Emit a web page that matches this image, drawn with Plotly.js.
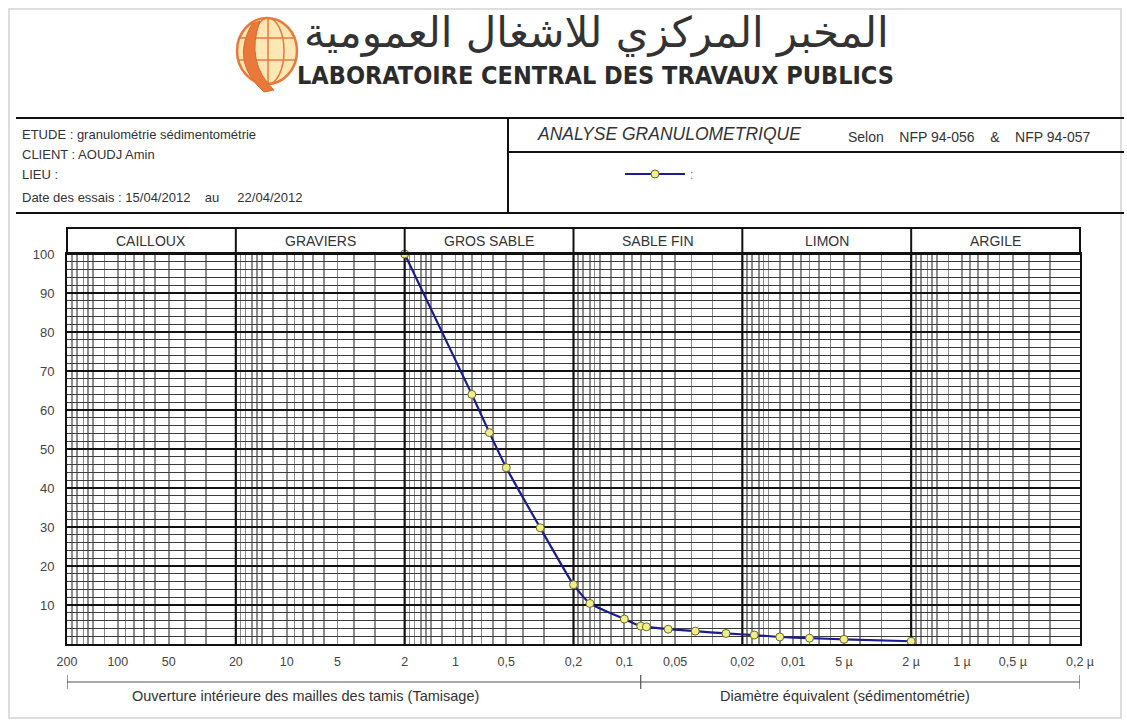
<!DOCTYPE html>
<html>
<head>
<meta charset="utf-8">
<script src="https://cdn.plot.ly/plotly-3.0.1.min.js"></script>
<style>html,body{margin:0;padding:0;background:#fff;} #chart{width:1127px;height:720px;}</style>
</head>
<body>
<div id="chart"></div>
<script>
// ---------- data ----------
const sizesMm = [2, 0.8, 0.63, 0.5, 0.315, 0.2, 0.16, 0.1, 0.08, 0.074, 0.055, 0.038, 0.025, 0.017, 0.012, 0.008, 0.005, 0.002];
const passingPct = [100, 64, 54.2, 45.2, 29.8, 15.2, 10.4, 6.4, 4.6, 4.4, 3.8, 3.3, 2.7, 2.3, 1.8, 1.5, 1.2, 0.7];
const classNames = ['CAILLOUX', 'GRAVIERS', 'GROS SABLE', 'SABLE FIN', 'LIMON', 'ARGILE'];
const classBounds = [200, 20, 2, 0.2, 0.02, 0.002, 0.0002];
const tickValsMm = [200, 100, 50, 20, 10, 5, 2, 1, 0.5, 0.2, 0.1, 0.05, 0.02, 0.01, 0.005, 0.002, 0.001, 0.0005, 0.0002];
const tickLabels = ['200', '100', '50', '20', '10', '5', '2', '1', '0,5', '0,2', '0,1', '0,05', '0,02', '0,01', '5 µ', '2 µ', '1 µ', '0,5 µ', '0,2 µ'];
const yTickVals = [10, 20, 30, 40, 50, 60, 70, 80, 90, 100];
const methodNames = ['Ouverture intérieure des mailles des tamis (Tamisage)', 'Diamètre équivalent (sédimentométrie)'];
const methodBounds = [200, 0.08, 0.0002];
const headerAr = 'المخبر المركزي للاشغال العمومية';
const headerFr = 'LABORATOIRE CENTRAL DES TRAVAUX PUBLICS';
const infoLines = ['ETUDE : granulométrie sédimentométrie', 'CLIENT : AOUDJ Amin', 'LIEU :', 'Date des essais : 15/04/2012\u00a0\u00a0\u00a0\u00a0au\u00a0\u00a0\u00a0\u00a0 22/04/2012'];
const analysisTitle = 'ANALYSE GRANULOMETRIQUE';
const normText = 'Selon\u00a0\u00a0\u00a0 NFP 94-056\u00a0\u00a0\u00a0 &\u00a0\u00a0\u00a0 NFP 94-057';
const seriesName = ':';

// ---------- helpers (pixel -> paper) ----------
const W = 1127, H = 720;
const P = x => x / W;
const Q = y => 1 - y / H;
const FONT = 'Liberation Sans, Arial, sans-serif';

// minor vertical grid (log paper pattern within each decade)
const gridMult = [1.875, 1.75, 1.6, 1.5, 1.4, 1.2, 1.0, 0.9, 0.8, 0.7, 0.6, 0.5, 0.4, 0.3];
const minorX = [];
for (let i = 0; i < classBounds.length - 1; i++) {
  const base = classBounds[i] / 2;
  gridMult.forEach(m => minorX.push(+(m * base).toPrecision(6)));
}

const PLOT_L = 67, PLOT_R = 1080, PLOT_T = 254, PLOT_B = 644, BAND_T = 228;

const trace = {
  x: sizesMm, y: passingPct, type: 'scatter', mode: 'lines+markers', name: seriesName,
  line: {color: '#1c1c8e', width: 2.2, shape: 'spline', smoothing: 0.5},
  marker: {symbol: 'circle', size: 8, color: '#f2ef86', line: {color: '#6a6a30', width: 1}},
  cliponaxis: false, showlegend: true, hoverinfo: 'x+y'
};

const shapes = [];
// outer document frame
shapes.push({type: 'rect', xref: 'paper', yref: 'paper', x0: P(9), x1: P(1121), y0: Q(718), y1: Q(9),
  line: {color: '#d4d4d4', width: 1.5}, fillcolor: 'rgba(0,0,0,0)', layer: 'below'});
// table lines
const tl = (x0, y0, x1, y1, w, c) => shapes.push({type: 'line', xref: 'paper', yref: 'paper',
  x0: P(x0), y0: Q(y0), x1: P(x1), y1: Q(y1), line: {color: c || '#111', width: w || 2}});
tl(16, 118, 1124, 118);
tl(16, 213, 1124, 213);
tl(508, 118, 508, 213);
tl(508, 152, 1124, 152);
// category band
shapes.push({type: 'rect', xref: 'paper', yref: 'paper', x0: P(PLOT_L), x1: P(PLOT_R), y0: Q(PLOT_T), y1: Q(BAND_T),
  line: {color: '#111', width: 2}, fillcolor: 'rgba(0,0,0,0)'});
classBounds.slice(1, -1).forEach(b => {
  shapes.push({type: 'line', xref: 'x', yref: 'paper', x0: b, x1: b, y0: Q(PLOT_T), y1: Q(BAND_T),
    line: {color: '#111', width: 2}});
  shapes.push({type: 'line', xref: 'x', yref: 'y', x0: b, x1: b, y0: 0, y1: 100, layer: 'between',
    line: {color: '#111', width: 2.2}});
});
// method brackets below axis
const BR_Y = 682;
shapes.push({type: 'line', xref: 'x', yref: 'paper', x0: methodBounds[0], x1: methodBounds[2], y0: Q(BR_Y), y1: Q(BR_Y),
  line: {color: '#555', width: 1.2}});
methodBounds.forEach(b => shapes.push({type: 'line', xref: 'x', yref: 'paper', x0: b, x1: b, y0: Q(675), y1: Q(689),
  line: {color: '#555', width: 1.2}}));

// logo
const ORG = '#e8793a';
shapes.push({type: 'circle', xref: 'paper', yref: 'paper', x0: P(237), x1: P(297), y0: Q(84), y1: Q(18),
  fillcolor: '#fde7b4', line: {color: ORG, width: 2.5}});
shapes.push({type: 'circle', xref: 'paper', yref: 'paper', x0: P(252), x1: P(284), y0: Q(84), y1: Q(18),
  fillcolor: 'rgba(0,0,0,0)', line: {color: ORG, width: 1.5}});
tl(240, 38, 294, 38, 1.5, ORG);
tl(238, 60, 296, 60, 1.5, ORG);
tl(268, 18, 268, 84, 1.5, ORG);
shapes.push({type: 'path', xref: 'paper', yref: 'paper',
  path: `M ${P(252)},${Q(24)} Q ${P(230)},${Q(62)} ${P(264)},${Q(92)} L ${P(274)},${Q(90)} Q ${P(245)},${Q(62)} ${P(260)},${Q(21)} Z`,
  fillcolor: ORG, line: {color: '#d9692d', width: 1}});

// annotations
const annotations = [];
const ann = (x, y, text, font, xanchor, extra) => annotations.push(Object.assign({
  xref: 'paper', yref: 'paper', x: P(x), y: Q(y), text: text, showarrow: false,
  xanchor: xanchor || 'center', yanchor: 'middle', font: font}, extra || {}));

ann(596, 33, headerAr, {family: 'DejaVu Sans, Noto Sans, sans-serif', size: 42, color: '#333'});
ann(595, 76, '<b>' + headerFr + '</b>', {family: 'Liberation Sans Narrow, DejaVu Sans Condensed, Arial Narrow, sans-serif', size: 25, color: '#2b2b2b'});

const infoY = [134, 154, 174, 197];
infoLines.forEach((t, i) => ann(20, infoY[i], t, {family: FONT, size: 13, color: '#333'}, 'left'));
ann(535, 134, analysisTitle, {family: FONT, size: 17.5, color: '#333', style: 'italic'}, 'left');
ann(846, 137, normText, {family: FONT, size: 14, color: '#333'}, 'left');

classNames.forEach((n, i) => {
  const c = Math.sqrt(classBounds[i] * classBounds[i + 1]);
  annotations.push({xref: 'x', yref: 'paper', x: Math.log10(c), y: Q(241), text: n, showarrow: false,
    xanchor: 'center', yanchor: 'middle', font: {family: FONT, size: 14, color: '#333'}});
});
ann(305, 696, methodNames[0], {family: FONT, size: 14.5, color: '#333'});
ann(845, 696, methodNames[1], {family: FONT, size: 14.5, color: '#333'});

const layout = {
  width: W, height: H,
  margin: {l: 0, r: 0, t: 0, b: 0},
  paper_bgcolor: '#ffffff', plot_bgcolor: 'rgba(0,0,0,0)',
  showlegend: true,
  legend: {x: P(620), y: Q(174), xanchor: 'left', yanchor: 'middle', bgcolor: 'rgba(0,0,0,0)',
    font: {family: FONT, size: 12, color: '#777'}, itemwidth: 60},
  xaxis: {
    type: 'log', range: [Math.log10(classBounds[0]), Math.log10(classBounds[classBounds.length - 1])],
    domain: [P(PLOT_L), P(PLOT_R)], anchor: 'y',
    tickmode: 'array', tickvals: tickValsMm, ticktext: tickLabels,
    showgrid: false, zeroline: false, ticks: '',
    showline: true, linecolor: '#111', linewidth: 2, mirror: true,
    tickfont: {family: FONT, size: 12.5, color: '#444'}, ticklabelstandoff: 5,
    minor: {tickmode: 'array', tickvals: minorX, showgrid: true, gridcolor: '#8c8c8c', gridwidth: 1.7, ticks: ''}
  },
  yaxis: {
    range: [0, 100], domain: [Q(PLOT_B), Q(PLOT_T)], anchor: 'x',
    tickmode: 'array', tickvals: yTickVals,
    showgrid: true, gridcolor: '#111', gridwidth: 2, zeroline: false, ticks: '',
    showline: true, linecolor: '#111', linewidth: 2, mirror: true,
    tickfont: {family: FONT, size: 13, color: '#444'}, ticklabelstandoff: 8,
    minor: {tickmode: 'linear', tick0: 0, dtick: 2, showgrid: true, gridcolor: '#3c3c3c', gridwidth: 1.4, ticks: ''}
  },
  shapes: shapes,
  annotations: annotations
};

Plotly.newPlot('chart', [trace], layout, {displayModeBar: false, staticPlot: true});
</script>
</body>
</html>
